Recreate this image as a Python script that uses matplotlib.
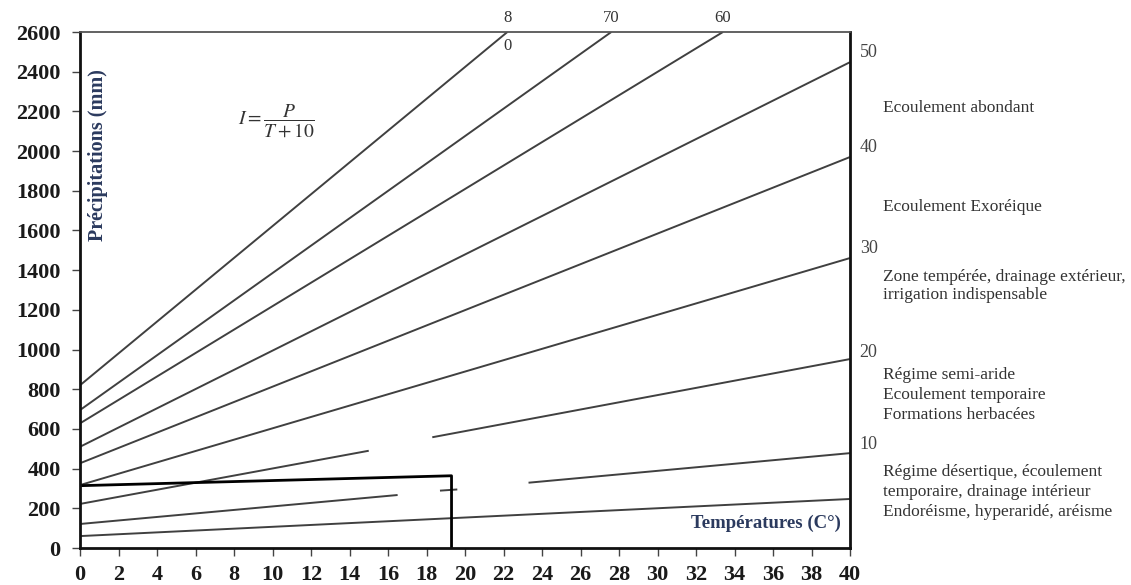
import numpy as np
import matplotlib
matplotlib.use("Agg")
import matplotlib.pyplot as plt

# De Martonne aridity index abacus: I = P / (T + 10)
# each iso-index line: P at T=0 and where it leaves the frame
index_values = [80, 70, 60, 50, 40, 30, 20, 10, 5]
p_at_0 = [820, 695, 628, 510, 427, 317, 222, 121, 60]
t_last = [22.2, 27.6, 33.4, 40, 40, 40, 40, 40, 40]
p_last = [2600, 2600, 2600, 2448, 1970, 1461, 952, 478, 247]

# breaks in the scanned lines (index, from T/P, to T/P)
gap_index = [20, 10, 10]
gap_t_from = [15.0, 16.5, 19.6]
gap_p_from = [490, 267, 295]
gap_t_to = [18.3, 18.7, 23.3]
gap_p_to = [558, 289, 329]

# outline drawn over the low-index area
box_t = [0, 19.3, 19.3]
box_p = [314, 364, 0]

# labels at the right edge of the frame
right_labels = ["50", "40", "30", "20", "10"]
right_label_p = [2499, 2020, 1511, 987, 519]

zone_texts = ["Ecoulement abondant",
              "Ecoulement Exoréique",
              "Zone tempérée, drainage extérieur,\nirrigation indispensable",
              "Régime semi-aride\nEcoulement temporaire\nFormations herbacées",
              "Régime désertique, écoulement\ntemporaire, drainage intérieur\nEndoréisme, hyperaridé, aréisme"]
zone_text_p = [2217, 1718, 1320, 771, 282]
zone_spacing = [1.2, 1.2, 1.15, 1.35, 1.35]

x_ticks = list(range(0, 41, 2))
y_ticks = list(range(0, 2601, 200))

plt.rcParams["font.family"] = ["Liberation Serif", "DejaVu Serif"]
plt.rcParams["mathtext.fontset"] = "stix"

fig = plt.figure(figsize=(11.31, 5.85), dpi=100)
ax = fig.add_axes([80 / 1131, 1 - 548 / 585, 770 / 1131, 516 / 585])

line_color = "#404040"
for idx, p0, t1, p1 in zip(index_values, p_at_0, t_last, p_last):
    xs = [0]
    ys = [p0]
    for g, tf, pf, tt, pt in zip(gap_index, gap_t_from, gap_p_from, gap_t_to, gap_p_to):
        if g == idx:
            xs += [tf, np.nan, tt]
            ys += [pf, np.nan, pt]
    xs.append(t1)
    ys.append(p1)
    ax.plot(xs, ys, color=line_color, lw=1.4, solid_capstyle="butt")

ax.plot(box_t, box_p, color="black", lw=2.0)

ax.set_xlim(0, 40)
ax.set_ylim(0, 2600)
ax.set_xticks(x_ticks)
ax.set_yticks(y_ticks)
ax.tick_params(direction="out", length=6, width=1, color="#444444")
ax.tick_params(axis="y", pad=8)
ax.tick_params(axis="x", pad=6)
for lab in ax.get_xticklabels() + ax.get_yticklabels():
    lab.set_fontweight("bold")
    lab.set_fontsize(16)
    lab.set_color("#1a1a1a")

for side in ["left", "bottom", "right"]:
    ax.spines[side].set_linewidth(2.0)
    ax.spines[side].set_color("#111111")
ax.spines["top"].set_linewidth(1.3)
ax.spines["top"].set_color("#555555")

# axis titles written inside the frame
ax.text(0.94, 1980, "Précipitations (mm)", rotation=90, ha="center", va="center",
        fontsize=14.5, fontweight="bold", color="#2b3a5e")
ax.text(39.5, 122, "Températures (C°)", ha="right", va="center",
        fontsize=13.5, fontweight="bold", color="#2b3a5e")

# formula
ax.text(10.2, 2155, r"$I=\dfrac{P}{T+10}$", ha="center", va="center",
        fontsize=14, color="#333333")

# index labels along the top frame
ax.text(22.2, 2630, "8", ha="center", va="bottom", fontsize=12, color="#333333", clip_on=False)
ax.text(22.2, 2570, "0", ha="center", va="top", fontsize=12, color="#333333")
ax.text(27.6, 2630, "70", ha="center", va="bottom", fontsize=12, color="#333333", clip_on=False)
ax.text(33.4, 2630, "60", ha="center", va="bottom", fontsize=12, color="#333333", clip_on=False)

for lab, p in zip(right_labels, right_label_p):
    ax.text(40.5, p, lab, ha="left", va="center", fontsize=13, color="#444444", clip_on=False)

for txt, p, sp in zip(zone_texts, zone_text_p, zone_spacing):
    ax.text(41.7, p, txt, ha="left", va="center", fontsize=12.5, color="#333333",
            linespacing=sp, clip_on=False)

fig.savefig("out.png", dpi=100)
